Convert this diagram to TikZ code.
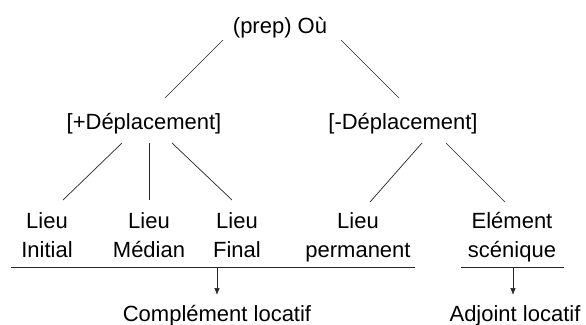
\documentclass[tikz,border=0pt]{standalone}
\usepackage{fontspec}
\setmainfont{Liberation Sans}
\usetikzlibrary{calc,arrows.meta}
\begin{document}
\begin{tikzpicture}[x=1pt,y=-1pt,
  lbl/.style={inner sep=0pt,anchor=base,align=center,font=\fontsize{22}{29}\selectfont},
  edge/.style={draw=black!85,line width=0.7pt},
  arr/.style={edge,-{Latex[length=7pt,width=5.5pt]}}]
\useasboundingbox (0,0) rectangle (586,324);
\node[lbl] (top) at (280,33) {(prep) Où};
\node[lbl] (plus) at (144,129) {[+Déplacement]};
\node[lbl] (minus) at (403,129) {[-Déplacement]};
\node[lbl] (li) at (47,257) {Lieu\\Initial};
\node[lbl] (lm) at (149,257) {Lieu\\Médian};
\node[lbl] (lf) at (237,257) {Lieu\\Final};
\node[lbl] (lp) at (358,257) {Lieu\\permanent};
\node[lbl] (es) at (512,257) {Elément\\scénique};
\node[lbl] (cl) at (217,321) {Complément locatif};
\node[lbl] (al) at (515,321) {Adjoint locatif};
% tree edges
\draw[edge] ($(top.base)+(-57,7)$) -- ($(plus.base)+(21,-31)$);
\draw[edge] ($(top.base)+(61,7)$) -- ($(minus.base)+(-4,-31)$);
\draw[edge] ($(plus.base)+(-22,14)$) -- ($(li.base)+(16,-57)$);
\draw[edge] ($(plus.base)+(5,14)$) -- ($(lm.base)+(0,-57)$);
\draw[edge] ($(plus.base)+(28,14)$) -- ($(lf.base)+(-5,-57)$);
\draw[edge] ($(minus.base)+(19,14)$) -- ($(lp.base)+(12,-55)$);
\draw[edge] ($(minus.base)+(43,14)$) -- ($(es.base)+(-7,-55)$);
% grouping bars
\coordinate (b1l) at (11,267);
\coordinate (b1r) at (415,267);
\coordinate (b2l) at (461,267);
\coordinate (b2r) at (564,267);
\draw[edge] (b1l) -- (b1r);
\draw[edge] (b2l) -- (b2r);
\coordinate (b1m) at (217,267);
\coordinate (b2m) at (513,267);
\draw[arr] (b1m) -- ($(cl.base)+(0,-26)$);
\draw[arr] (b2m) -- ($(al.base)+(-2,-26)$);
\end{tikzpicture}
\end{document}
